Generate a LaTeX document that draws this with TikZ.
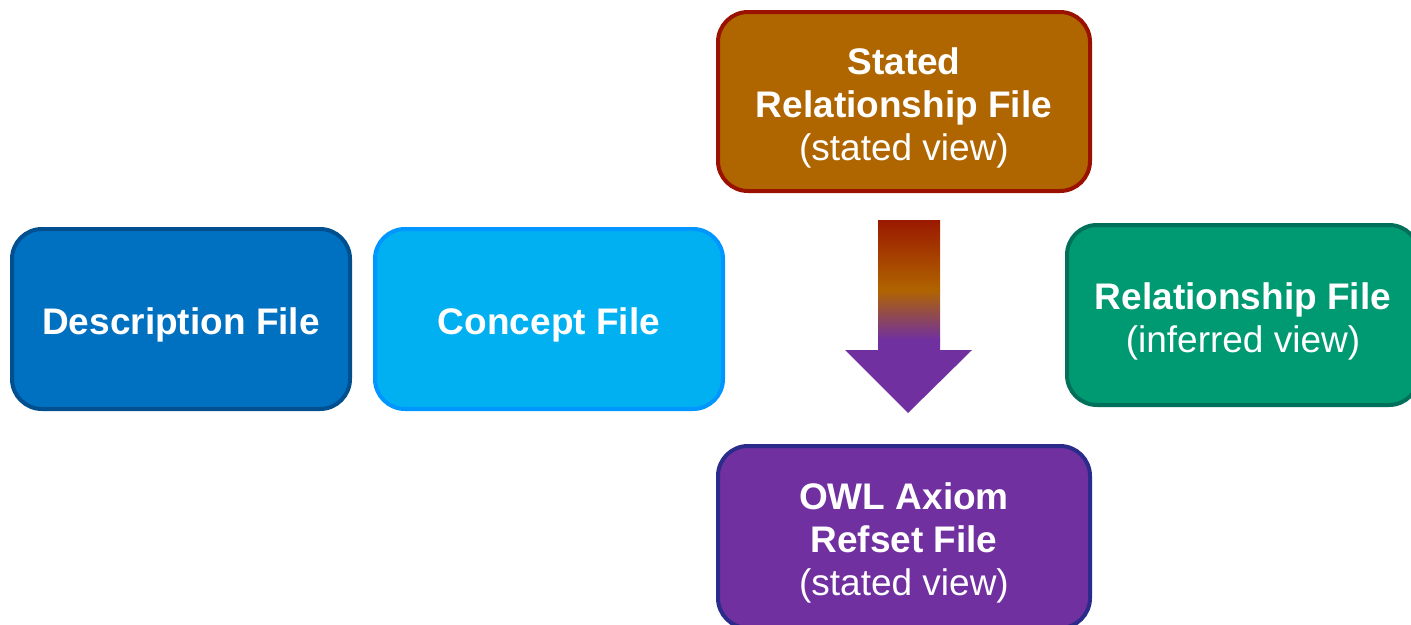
\documentclass[tikz,border=0pt]{standalone}
\usepackage{fontspec}
\setmainfont{Liberation Sans}
\definecolor{descF}{HTML}{0070C0}
\definecolor{descD}{HTML}{00508F}
\definecolor{concF}{HTML}{00B0F0}
\definecolor{concD}{HTML}{0096FF}
\definecolor{statF}{HTML}{AF6600}
\definecolor{statD}{HTML}{9B1100}
\definecolor{relF}{HTML}{009A72}
\definecolor{relD}{HTML}{00705A}
\definecolor{owlF}{HTML}{7030A0}
\definecolor{owlD}{HTML}{2B2B8C}
\definecolor{arrRed}{HTML}{9A1800}
\definecolor{arrOrg}{HTML}{B06400}
\begin{document}
\begin{tikzpicture}[x=0.75pt,y=-0.75pt,
  filebox/.style={draw, line width=3pt, rounded corners=22.5pt, inner sep=0pt},
  filetext/.style={inner sep=0pt, yshift=-4.5pt, text=white, align=center,
    font=\fontsize{27.75pt}{32.25pt}\selectfont}]
\useasboundingbox (0,0) rectangle (1411,625);
\clip (0,0) rectangle (1411,625);
\node[filebox, fill=descF, draw=descD, minimum width=253.5pt, minimum height=135pt,
  label={[filetext]center:\bfseries Description File}] (desc) at (181,319) {};
\node[filebox, fill=concF, draw=concD, minimum width=261pt, minimum height=135pt,
  label={[filetext]center:\bfseries Concept File}] (conc) at (549,319) {};
\node[filebox, fill=statF, draw=statD, minimum width=279pt, minimum height=134.25pt,
  label={[filetext]center:\bfseries Stated\\\bfseries Relationship File\\(stated view)}] (stat) at (904,101.5) {};
\node[filebox, fill=relF, draw=relD, minimum width=264pt, minimum height=135pt,
  label={[filetext]center:\bfseries Relationship File\\(inferred view)}] (rel) at (1243,315) {};
\node[filebox, fill=owlF, draw=owlD, minimum width=279pt, minimum height=136.5pt,
  label={[filetext]center:\bfseries OWL Axiom\\\bfseries Refset File\\(stated view)}] (owl) at (904,537) {};
% block arrow from stat to owl
\begin{scope}
  \clip (878,220) -- (940,220) -- (940,350) -- (972,350) -- (908,413) -- (845,350) -- (878,350) -- cycle;
  \shade[top color=arrRed, bottom color=arrOrg] (840,219) rectangle (976,290);
  \shade[top color=arrOrg, bottom color=owlF] (840,290) rectangle (976,340);
  \fill[owlF] (840,340) rectangle (976,415);
\end{scope}
\end{tikzpicture}
\end{document}
